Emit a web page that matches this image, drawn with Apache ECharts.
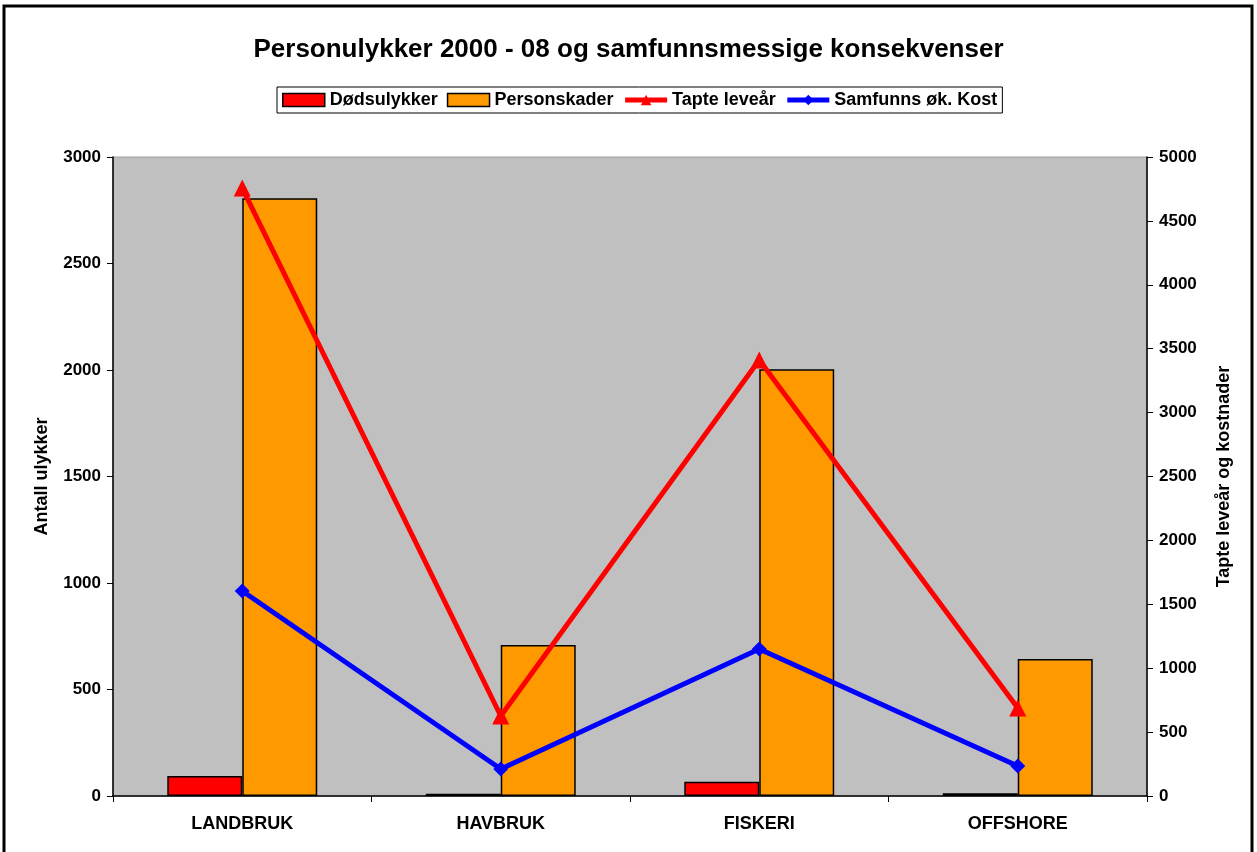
<!DOCTYPE html>
<html><head><meta charset="utf-8">
<script src="https://cdn.jsdelivr.net/npm/echarts@6/dist/echarts.min.js"></script>
<style>html,body{margin:0;padding:0;background:#fff}#c{width:1257px;height:852px}</style>
</head><body><div id="c"></div>
<script>
const categories = ['LANDBRUK', 'HAVBRUK', 'FISKERI', 'OFFSHORE'];
const dodsulykker = [94, 11, 67, 13];
const personskader = [2806, 709, 2004, 643];
const tapteLeveaar = [4757, 626, 3412, 689];
const samfunnsKost = [1604, 211, 1150, 235];
const leftTicks = [0, 3000, 500];
const rightTicks = [0, 5000, 500];

const F = 'Liberation Sans, Arial, sans-serif';
const lbl = { fontFamily: F, fontWeight: 'bold', fontSize: 17, color: '#000' };
const chart = echarts.init(document.getElementById('c'));
chart.setOption({
  backgroundColor: '#fff',
  animation: false,
  title: {
    text: 'Personulykker 2000 - 08 og samfunnsmessige konsekvenser',
    left: 'center', top: 32,
    textStyle: { fontFamily: F, fontWeight: 'bold', fontSize: 26, color: '#000' }
  },
  legend: {
    left: 277, top: 87,
    padding: [4, 5, 4, 5],
    borderColor: '#000', borderWidth: 1,
    itemGap: 9, itemWidth: 42, itemHeight: 13,
    textStyle: { fontFamily: F, fontWeight: 'bold', fontSize: 18, color: '#000', padding: [0, 0, 0, 0] },
    data: [
      { name: 'Dødsulykker', icon: 'rect', itemStyle: { borderColor: '#000', borderWidth: 1.5 } },
      { name: 'Personskader', icon: 'rect', itemStyle: { borderColor: '#000', borderWidth: 1.5 } },
      { name: 'Tapte leveår', lineStyle: { width: 5 } },
      { name: 'Samfunns øk. Kost', lineStyle: { width: 5 } }
    ]
  },
  grid: { left: 113, right: 110, top: 157, bottom: 56, show: true, backgroundColor: '#c0c0c0', borderColor: '#a0a0a0', borderWidth: 1 },
  xAxis: {
    type: 'category', data: categories,
    axisLine: { lineStyle: { color: '#000', width: 1.5 } },
    axisTick: { show: true, length: 6, alignWithLabel: false, lineStyle: { color: '#000' } },
    axisLabel: Object.assign({}, lbl, { fontSize: 18, margin: 19 })
  },
  yAxis: [
    {
      type: 'value', min: leftTicks[0], max: leftTicks[1], interval: leftTicks[2],
      name: 'Antall ulykker', nameLocation: 'middle', nameGap: 62, nameRotate: 90,
      nameTextStyle: Object.assign({}, lbl, { fontSize: 18 }),
      axisLine: { show: true, lineStyle: { color: '#000', width: 1.5 } },
      axisTick: { show: true, length: 6, lineStyle: { color: '#000' } },
      splitLine: { show: false },
      axisLabel: Object.assign({}, lbl, { margin: 12, formatter: v => String(v) })
    },
    {
      type: 'value', min: rightTicks[0], max: rightTicks[1], interval: rightTicks[2],
      name: 'Tapte leveår og kostnader', nameLocation: 'middle', nameGap: 68, nameRotate: 90,
      nameTextStyle: Object.assign({}, lbl, { fontSize: 18 }),
      position: 'right',
      axisLine: { show: true, lineStyle: { color: '#000', width: 1.5 } },
      axisTick: { show: true, length: 6, lineStyle: { color: '#000' } },
      splitLine: { show: false },
      axisLabel: Object.assign({}, lbl, { margin: 12, formatter: v => String(v) })
    }
  ],
  series: [
    { name: 'Dødsulykker', type: 'bar', data: dodsulykker, barGap: '0%', barCategoryGap: '42%',
      itemStyle: { color: '#ff0000', borderColor: '#000', borderWidth: 1.5 } },
    { name: 'Personskader', type: 'bar', data: personskader, barGap: '0%', barCategoryGap: '42%',
      itemStyle: { color: '#ff9900', borderColor: '#000', borderWidth: 1.5 } },
    { name: 'Tapte leveår', type: 'line', yAxisIndex: 1, data: tapteLeveaar,
      symbol: 'triangle', symbolSize: 17, lineStyle: { color: '#ff0000', width: 5 },
      itemStyle: { color: '#ff0000' } },
    { name: 'Samfunns øk. Kost', type: 'line', yAxisIndex: 1, data: samfunnsKost,
      symbol: 'diamond', symbolSize: 15, lineStyle: { color: '#0000ff', width: 5 },
      itemStyle: { color: '#0000ff' } }
  ],
  graphic: [
    { type: 'rect', shape: { x: 4, y: 6, width: 1248, height: 900 }, style: { fill: null, stroke: '#000', lineWidth: 3 }, silent: true }
  ]
});
</script></body></html>
